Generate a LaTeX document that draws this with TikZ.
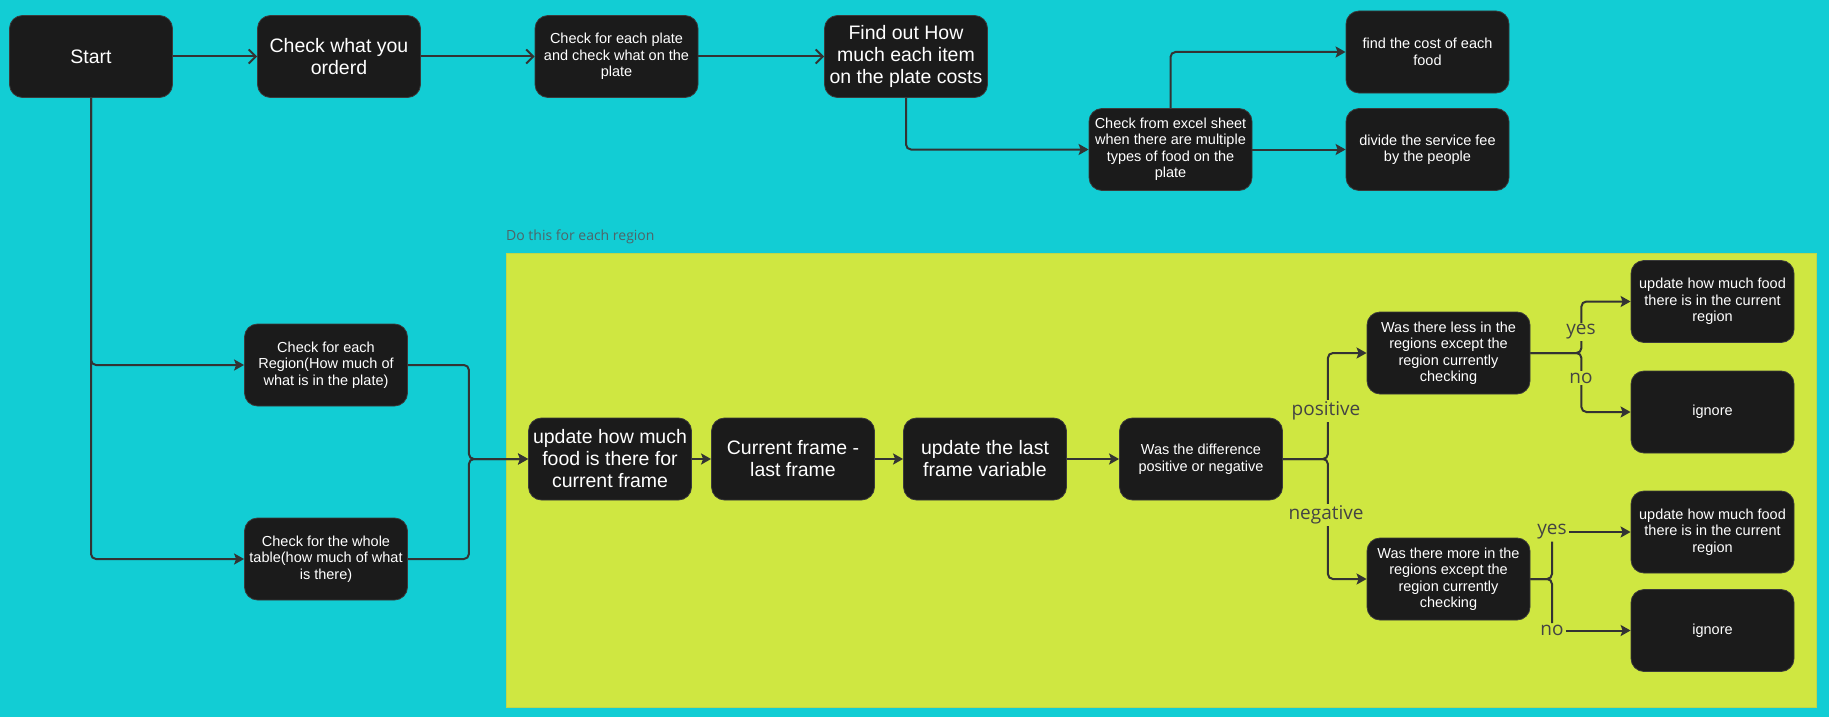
\documentclass[tikz,border=0pt]{standalone}
\usepackage{fontspec}
\setmainfont{Liberation Sans}
\newfontfamily\labelfont{Open Sans}
\usetikzlibrary{arrows.meta}
\definecolor{bgcyan}{RGB}{18,205,212}
\definecolor{loopyellow}{RGB}{207,231,65}
\definecolor{loopedge}{RGB}{190,215,75}
\definecolor{boxfill}{RGB}{27,27,27}
\definecolor{boxedge}{RGB}{58,58,58}
\definecolor{wire}{RGB}{51,51,51}
\definecolor{lblgray}{RGB}{68,68,68}
\definecolor{notegray}{RGB}{78,100,104}

\begin{document}
\begin{tikzpicture}[x=1pt,y=-1pt,>={Stealth[length=10pt,width=11pt,inset=2pt]},
  procbox/.style={draw=boxedge,line width=0.8pt,fill=boxfill,text=white,rounded corners=13pt,
    minimum width=163pt,minimum height=82pt,align=center,inner sep=2pt},
  bigbox/.style={procbox,font=\fontsize{19.5}{22}\selectfont},
  smallbox/.style={procbox,font=\fontsize{14.5}{16.5}\selectfont},
  lbl/.style={fill=loopyellow,text=lblgray,inner sep=2pt,font=\labelfont\fontsize{19}{20}\selectfont},
  flow/.style={->,draw=wire,line width=2pt,rounded corners=5pt},
  openflow/.style={flow,-{Straight Barb[length=7pt,width=14pt]}},
  wireline/.style={draw=wire,line width=2pt,rounded corners=5pt}]
\fill[bgcyan] (0,0) rectangle (1829,717);
\useasboundingbox (0,0) rectangle (1829,717);
\filldraw[fill=loopyellow,draw=loopedge,line width=0.6pt] (506,253) rectangle (1816,707);
\node[anchor=west,text=notegray,inner sep=0pt,font=\labelfont\fontsize{14}{16}\selectfont] (loopnote) at (506,237) {Do this for each region};

\node[bigbox] (start) at (91,56.5) {Start};
\node[bigbox] (ordered) at (339,56.5) {Check what you\\orderd};
\node[smallbox] (plate) at (616.5,56.5) {Check for each plate\\and check what on the\\plate};
\node[bigbox] (itemcost) at (906,56.5) {Find out How\\much each item\\on the plate costs};
\node[smallbox] (excel) at (1170.5,149.5) {Check from excel sheet\\when there are multiple\\types of food on the\\plate};
\node[smallbox] (foodcost) at (1427.5,52) {find the cost of each\\food};
\node[smallbox] (servicefee) at (1427.5,149.5) {divide the service fee\\by the people};
\node[smallbox] (eachregion) at (326,365) {Check for each\\Region(How much of\\what is in the plate)};
\node[smallbox] (wholetable) at (326,559) {Check for the whole\\table(how much of what\\is there)};
\node[bigbox] (curframe) at (610,459) {update how much\\food is there for\\current frame};
\node[bigbox] (framediff) at (793,459) {Current frame -\\last frame};
\node[bigbox] (lastframe) at (985,459) {update the last\\frame variable};
\node[smallbox] (posneg) at (1201,459) {Was the difference\\positive or negative};
\node[smallbox] (lessq) at (1448.5,353) {Was there less in the\\regions except the\\region currently\\checking};
\node[smallbox] (moreq) at (1448.5,579) {Was there more in the\\regions except the\\region currently\\checking};
\node[smallbox] (updless) at (1712.5,301.5) {update how much food\\there is in the current\\region};
\node[smallbox] (ignless) at (1712.5,412) {ignore};
\node[smallbox] (updmore) at (1712.5,532) {update how much food\\there is in the current\\region};
\node[smallbox] (ignmore) at (1712.5,630.5) {ignore};

\draw[openflow] (start) -- (ordered);
\draw[openflow] (ordered) -- (plate);
\draw[openflow] (plate) -- (itemcost);
\draw[flow] (itemcost.south) |- (excel.west);
\draw[flow] (excel.north) |- (foodcost.west);
\draw[flow] (excel) -- (servicefee);
\draw[flow] (start.south) |- (eachregion.west);
\draw[flow] (start.south) |- (wholetable.west);
\draw[flow] (eachregion.east) -- ++(61,0) |- (curframe.west);
\draw[flow] (wholetable.east) -- ++(61,0) |- (curframe.west);
\draw[flow] (curframe) -- (framediff);
\draw[flow] (framediff) -- (lastframe);
\draw[flow] (lastframe) -- (posneg);
\draw[flow] (posneg.east) -- ++(45,0) |- (lessq.west);
\draw[flow] (posneg.east) -- ++(45,0) |- (moreq.west);
\draw[flow] (lessq.east) -- ++(51,0) |- (updless.west);
\draw[flow] (lessq.east) -- ++(51,0) |- (ignless.west);

\node[lbl] (pos) at (1326,411) {positive};
\node[lbl] (neg) at (1326,515) {negative};
\node[lbl] (yesless) at (1581,332) {yes};
\node[lbl] (noless) at (1581,378) {no};
\node[lbl] (yesmore) at (1552,532) {yes};
\node[lbl] (nomore) at (1552,630.5) {no};
\draw[wireline] (moreq.east) -| (yesmore.south);
\draw[wireline] (moreq.east) -| (nomore.north);
\draw[flow] (yesmore) -- (updmore);
\draw[flow] (nomore) -- (ignmore);
\end{tikzpicture}
\end{document}
